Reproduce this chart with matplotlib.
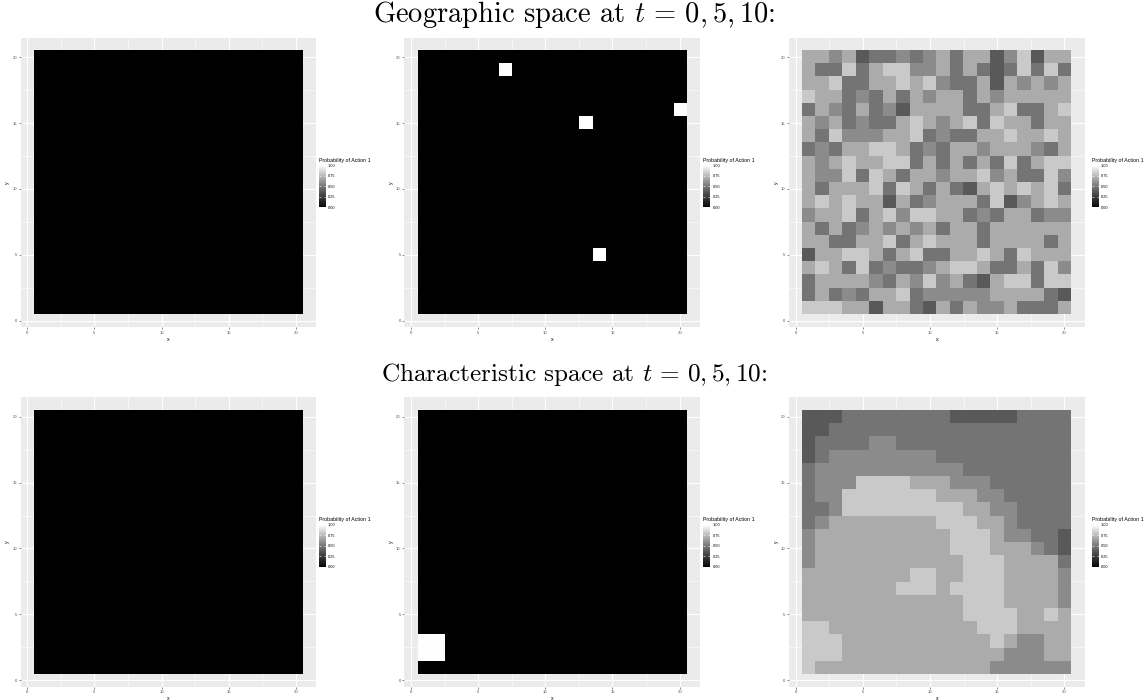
import numpy as np
import matplotlib
matplotlib.use("Agg")
import matplotlib.pyplot as plt
from matplotlib.colors import ListedColormap
from matplotlib.ticker import MultipleLocator

# ---------------- data ----------------
# probability for each grey level code (0 = black, 6 = white)
prob_levels = [0.0, 0.38, 0.49, 0.58, 0.70, 0.81, 1.0]

axis_ticks = [0, 5, 10, 15, 20]
legend_ticks = [0.0, 0.25, 0.50, 0.75, 1.00]
legend_labels = ["0.00", "0.25", "0.50", "0.75", "1.00"]
legend_title = "Probability of Action 1"
row_titles = ["Geographic space at $t\\, =\\, 0, 5, 10$:",
              "Characteristic space at $t\\, =\\, 0, 5, 10$:"]

# t = 0 and t = 5: cells (x, y) with probability 1, all others 0
geo_t0_white = []
geo_t5_white = [(7, 19), (13, 15), (20, 16), (14, 5)]
char_t0_white = []
char_t5_white = [(1, 2), (2, 2), (1, 3), (2, 3)]

# t = 10: grey level codes, rows from y = 20 (top) down to y = 1, x = 1..20
geo_t10_rows = [
    "44341223234244135144",
    "42252455334242125252",
    "44522445453224143434",
    "54423242434424344444",
    "24324231444422452245",
    "43423224543452544244",
    "42533344523224454454",
    "23244554232443444324",
    "43454455242424252455",
    "43352542443445342253",
    "42444525424214545452",
    "45454414234442513454",
    "34452453554423244233",
    "42423434342442444444",
    "44224452454442444424",
    "14455424522445425444",
    "45425232234554224253",
    "24444324353421455255",
    "24232445233333444421",
    "55544144214243342224",
]
char_t10_rows = [
    "11122222222111112222",
    "11222222222222222222",
    "12222332222222222222",
    "12333333332222222222",
    "23333333333322222222",
    "23335555444333222222",
    "23355555554443322222",
    "22355555555544332222",
    "23444444445554432222",
    "34444444444555433221",
    "34444444444555444321",
    "34444444444455544442",
    "44444444554455544443",
    "44444445554555544443",
    "44444444444455544443",
    "44444444444455554454",
    "55444444444445554444",
    "55544444444444543344",
    "55544444444444433344",
    "54444444444444333333",
]

# ---------------- helpers ----------------
N = 20


def grid_from_white(cells):
    z = np.zeros((N, N))
    for x, y in cells:
        z[y - 1, x - 1] = prob_levels[6]
    return z


def grid_from_rows(rows):
    z = np.array([[prob_levels[int(c)] for c in r] for r in rows])
    return z[::-1]  # row 0 -> y = 1


def lab_grey_cmap():
    L = np.linspace(0, 100, 256)
    Y = np.where(L > 8, ((L + 16) / 116.0) ** 3, L / 903.3)
    s = np.where(Y > 0.0031308, 1.055 * np.power(Y, 1 / 2.4) - 0.055, 12.92 * Y)
    s = np.clip(s, 0, 1)
    return ListedColormap(np.stack([s, s, s], axis=1))


cmap = lab_grey_cmap()

plt.rcParams["font.family"] = ["Liberation Sans", "DejaVu Sans"]
plt.rcParams["mathtext.fontset"] = "cm"

W, H = 1148, 700
fig = plt.figure(figsize=(W / 100, H / 100), dpi=100)

col_left = [20.6, 404.3, 789.0]
legend_gap = [2.5, 3.5, 7.5]
row_top = [37.5, 397.0]
pw, ph = 295.5, 289.8

grids = [
    [grid_from_white(geo_t0_white), grid_from_white(geo_t5_white), grid_from_rows(geo_t10_rows)],
    [grid_from_white(char_t0_white), grid_from_white(char_t5_white), grid_from_rows(char_t10_rows)],
]

title_y = [14, 375]
title_size = [20.5, 18.2]
for r in range(2):
    fig.text(0.5, 1 - title_y[r] / H, row_titles[r], ha="center", va="center",
             fontsize=title_size[r], family="cmr10")
    for c in range(3):
        x0, y0 = col_left[c], row_top[r]
        ax = fig.add_axes([x0 / W, 1 - (y0 + ph) / H, pw / W, ph / H])
        ax.set_facecolor("#EBEBEB")
        im = ax.imshow(grids[r][c], origin="lower", extent=(0.5, 20.5, 0.5, 20.5),
                       cmap=cmap, vmin=0, vmax=1, aspect="auto",
                       interpolation="nearest", zorder=1)
        ax.set_xlim(-0.5, 21.5)
        ax.set_ylim(-0.5, 21.5)
        ax.set_xticks(axis_ticks)
        ax.set_yticks(axis_ticks)
        ax.xaxis.set_minor_locator(MultipleLocator(2.5))
        ax.yaxis.set_minor_locator(MultipleLocator(2.5))
        ax.grid(which="major", color="white", lw=0.8, zorder=0)
        ax.grid(which="minor", color="white", lw=0.4, zorder=0)
        ax.set_axisbelow(True)
        for sp in ax.spines.values():
            sp.set_visible(False)
        ax.tick_params(which="major", length=1.6, width=0.4, color="#333333",
                       labelsize=3.0, labelcolor="#4D4D4D", pad=1.0)
        ax.tick_params(which="minor", length=0)
        ax.set_xlabel("x", fontsize=3.8, labelpad=1.5)
        ax.set_ylabel("y", fontsize=3.8, labelpad=1.5)

        # legend (colour bar)
        bx = x0 + pw + legend_gap[c]
        cy = y0 + ph / 2
        bh, bw = 42, 7
        bar_top = cy - 17
        cax = fig.add_axes([bx / W, 1 - (bar_top + bh) / H, bw / W, bh / H])
        cb = fig.colorbar(im, cax=cax, ticks=legend_ticks)
        cb.outline.set_visible(False)
        cax.set_yticklabels(legend_labels)
        cax.tick_params(length=1.2, width=0.4, color="white", direction="in",
                        labelsize=2.8, pad=1.5, right=True, left=True)
        fig.text(bx / W, 1 - (bar_top - 2.5) / H, legend_title, fontsize=3.8,
                 ha="left", va="bottom")

fig.savefig("out.png", dpi=100)
